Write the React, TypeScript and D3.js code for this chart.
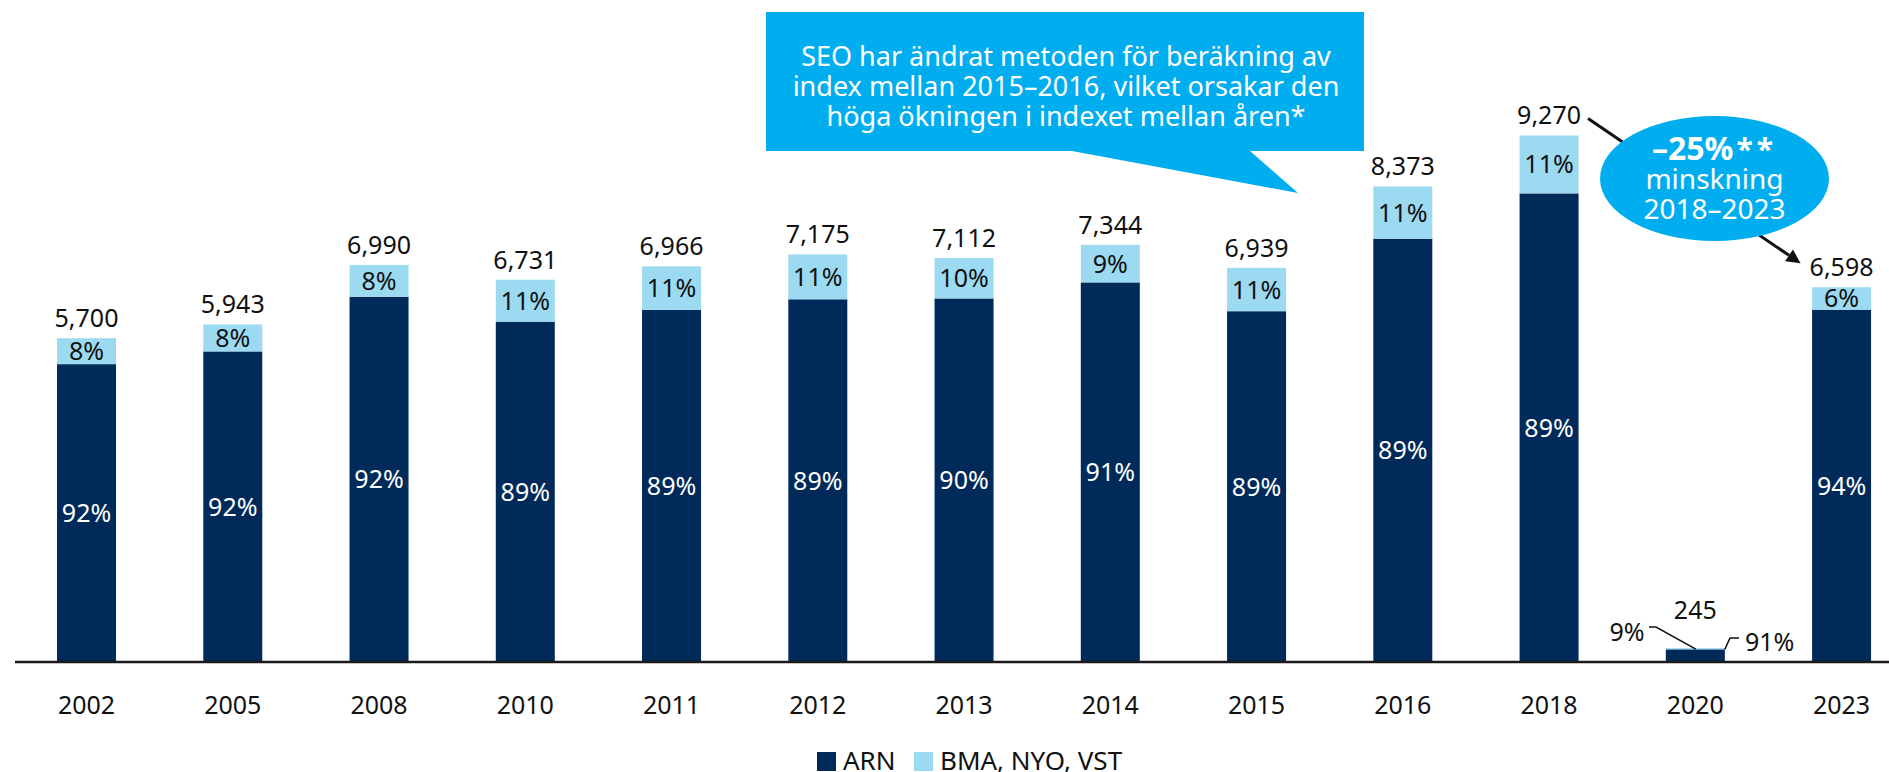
import React from 'react';
import * as d3 from 'd3';

const years = ['2002', '2005', '2008', '2010', '2011', '2012', '2013', '2014', '2015', '2016', '2018', '2020', '2023'];
const totals = [5700, 5943, 6990, 6731, 6966, 7175, 7112, 7344, 6939, 8373, 9270, 245, 6598];
const arnPct = [92, 92, 92, 89, 89, 89, 90, 91, 89, 89, 89, 91, 94];
const otherPct = [8, 8, 8, 11, 11, 11, 10, 9, 11, 11, 11, 9, 6];
const seriesNames = ['ARN', 'BMA, NYO, VST'];
const calloutLines = [
  'SEO har ändrat metoden för beräkning av',
  'index mellan 2015–2016, vilket orsakar den',
  'höga ökningen i indexet mellan åren*',
];
const bubbleLines = ['–25%', '**', 'minskning', '2018–2023'];

const W = 1889;
const H = 772;
const DARK = '#002a5a';
const LIGHT = '#9cdaf2';
const CYAN = '#00aeef';
const FONT = '"Noto Sans", "Open Sans", sans-serif';

const App = () => {
  const x = d3.scaleBand<string>()
    .domain(years)
    .range([13.4, 1914.7])
    .paddingInner(0.5966)
    .paddingOuter(0.2983);
  const y = d3.scaleLinear().domain([0, 10000]).range([662, 94]);
  const bw = x.bandwidth();
  const base = y(0);

  const rows = years.map((yr, i) => {
    const arn = (totals[i] * arnPct[i]) / 100;
    return { yr, total: totals[i], arn, arnPct: arnPct[i], otherPct: otherPct[i] };
  });

  const cx = (yr: string) => (x(yr) as number) + bw / 2;

  // arrow 2018 -> 2023
  const a0: [number, number] = [cx('2018') + 39, y(9270) - 17];
  const a1: [number, number] = [cx('2023') - 41, y(6598) - 24];
  const ang = Math.atan2(a1[1] - a0[1], a1[0] - a0[0]);
  const head = 14;
  const hw = 7;
  const hb: [number, number] = [a1[0] - head * Math.cos(ang), a1[1] - head * Math.sin(ang)];
  const headPts = [
    a1,
    [hb[0] + hw * Math.sin(ang), hb[1] - hw * Math.cos(ang)],
    [hb[0] - hw * Math.sin(ang), hb[1] + hw * Math.cos(ang)],
  ].map(p => p.join(',')).join(' ');

  const c20 = x('2020') as number;
  const y20top = y(245);
  const y20mid = y((245 * 91) / 100);

  return (
    <svg width={W} height={H} style={{ position: 'absolute', left: 0, top: 0, fontFamily: FONT }}>
      <rect width={W} height={H} fill="#fff" />

      {/* callout box */}
      <path d="M766,12 H1364 V151 H1250 L1298,193 L1072,151 H766 Z" fill={CYAN} />
      {calloutLines.map((t, i) => (
        <text key={i} x={1066} y={66 + i * 30} textAnchor="middle" fontSize={27} fill="#fff">{t}</text>
      ))}

      {rows.map(d => {
        const left = x(d.yr) as number;
        const isSmall = d.total < 1000;
        return (
          <g key={d.yr}>
            <rect x={left} y={y(d.arn)} width={bw} height={base - y(d.arn)} fill={DARK} />
            <rect x={left} y={y(d.total)} width={bw} height={y(d.arn) - y(d.total)} fill={LIGHT} />
            {!isSmall && (
              <>
                <text x={cx(d.yr)} y={(y(d.total) + y(d.arn)) / 2} dy="0.36em" textAnchor="middle" fontSize={25} fill="#111">{d.otherPct}%</text>
                <text x={cx(d.yr)} y={(y(d.arn) + base) / 2} dy="0.36em" textAnchor="middle" fontSize={25} fill="#fff">{d.arnPct}%</text>
              </>
            )}
            <text x={cx(d.yr)} y={y(d.total) - (isSmall ? 29 : 11)} textAnchor="middle" fontSize={25} fill="#111">
              {d3.format(',')(d.total)}
            </text>
            <text x={cx(d.yr)} y={714} textAnchor="middle" fontSize={25} fill="#111">{d.yr}</text>
          </g>
        );
      })}

      {/* 2020 leader lines */}
      <polyline points={`1649,627 1656,627 ${c20 + 30},${y20top + 1}`} fill="none" stroke="#111" strokeWidth={1.5} />
      <text x={1627} y={632} dy="0.36em" textAnchor="middle" fontSize={25} fill="#111">{otherPct[11]}%</text>
      <polyline points={`${c20 + bw},${y20mid} 1730,638 1739,638`} fill="none" stroke="#111" strokeWidth={1.5} />
      <text x={1745} y={642} dy="0.36em" textAnchor="start" fontSize={25} fill="#111">{arnPct[11]}%</text>

      {/* axis */}
      <line x1={15} x2={W} y1={base} y2={base} stroke="#1a1a1a" strokeWidth={2.5} />

      {/* arrow + bubble */}
      <line x1={a0[0]} y1={a0[1]} x2={hb[0]} y2={hb[1]} stroke="#111" strokeWidth={3} />
      <polygon points={headPts} fill="#111" />
      <ellipse cx={1714.5} cy={178.5} rx={114.5} ry={62.5} fill={CYAN} />
      <text x={1714.5} y={160} textAnchor="middle" fill="#fff">
        <tspan fontSize={32} fontWeight="bold">{bubbleLines[0]}</tspan>
        <tspan fontSize={30} fontWeight="bold" letterSpacing={4} dx={3}>{bubbleLines[1]}</tspan>
      </text>
      <text x={1714.5} y={189} textAnchor="middle" fontSize={28} fill="#fff">{bubbleLines[2]}</text>
      <text x={1714.5} y={219} textAnchor="middle" fontSize={28} fill="#fff">{bubbleLines[3]}</text>

      {/* legend */}
      <rect x={817} y={752} width={19} height={19} fill={DARK} />
      <text x={843} y={770} fontSize={26} fill="#111">{seriesNames[0]}</text>
      <rect x={914} y={752} width={19} height={19} fill={LIGHT} />
      <text x={940} y={770} fontSize={26} fill="#111">{seriesNames[1]}</text>
    </svg>
  );
};

export default App;
